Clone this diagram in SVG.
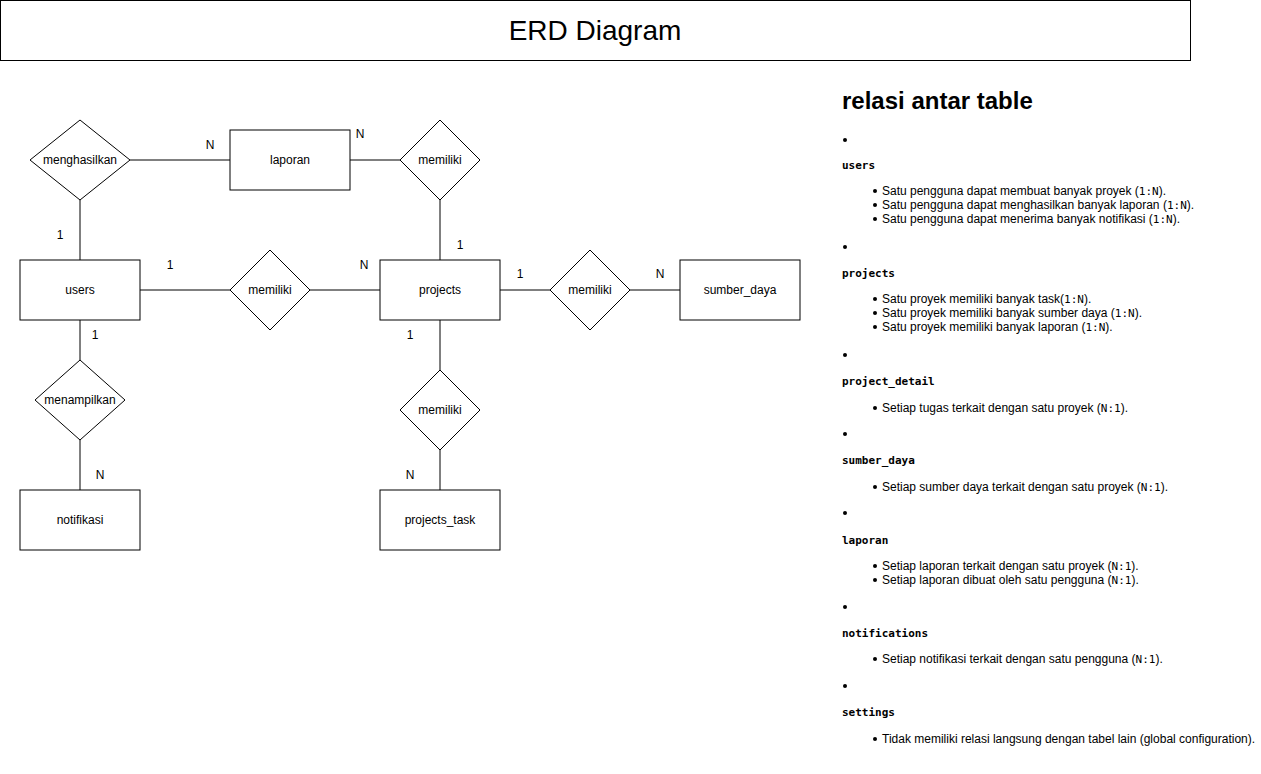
<svg xmlns="http://www.w3.org/2000/svg" width="1261" height="774" viewBox="0 0 1261 774">
<style>
.ent{fill:#fff;stroke:#000;stroke-width:1}
.lbl{font-family:"Liberation Sans",Arial,sans-serif;font-size:12px;fill:#000}
.c{text-anchor:middle;dominant-baseline:central}
.conn line{stroke:#000;stroke-width:1}
.h{font-family:"Liberation Sans",Arial,sans-serif;font-size:24px;font-weight:bold}
.code{font-family:"DejaVu Sans Mono","Liberation Mono",monospace;font-size:11px;font-weight:bold}
.li{font-family:"Liberation Sans",Arial,sans-serif;font-size:12px}
.m{font-family:"DejaVu Sans Mono","Liberation Mono",monospace;font-size:11px}
</style>
<rect width="1261" height="774" fill="#fff"/>
<g id="title">
<rect x="0.5" y="0.5" width="1190" height="60" class="ent"/>
<text x="595" y="30" class="c" style="font-family:'Liberation Sans',Arial,sans-serif;font-size:28px">ERD Diagram</text>
</g>
<g class="conn" id="connectors">
<line x1="130" y1="160" x2="230" y2="160"/>
<line x1="80" y1="200" x2="80" y2="260"/>
<line x1="350" y1="160" x2="400" y2="160"/>
<line x1="440" y1="200" x2="440" y2="260"/>
<line x1="140" y1="290" x2="230" y2="290"/>
<line x1="310" y1="290" x2="380" y2="290"/>
<line x1="500" y1="290" x2="550" y2="290"/>
<line x1="630" y1="290" x2="680" y2="290"/>
<line x1="80" y1="320" x2="80" y2="360"/>
<line x1="80" y1="440" x2="80" y2="490"/>
<line x1="440" y1="320" x2="440" y2="370"/>
<line x1="440" y1="450" x2="440" y2="490"/>
</g>
<g id="laporan"><rect x="230" y="130" width="120" height="60" class="ent"/><text x="290" y="160" class="lbl c">laporan</text></g>
<g id="users"><rect x="20" y="260" width="120" height="60" class="ent"/><text x="80" y="290" class="lbl c">users</text></g>
<g id="projects"><rect x="380" y="260" width="120" height="60" class="ent"/><text x="440" y="290" class="lbl c">projects</text></g>
<g id="sumber_daya"><rect x="680" y="260" width="120" height="60" class="ent"/><text x="740" y="290" class="lbl c">sumber_daya</text></g>
<g id="notifikasi"><rect x="20" y="490" width="120" height="60" class="ent"/><text x="80" y="520" class="lbl c">notifikasi</text></g>
<g id="projects_task"><rect x="380" y="490" width="120" height="60" class="ent"/><text x="440" y="520" class="lbl c">projects_task</text></g>
<g id="rel_menghasilkan"><polygon points="80,120 130,160 80,200 30,160" class="ent"/><text x="80" y="160" class="lbl c">menghasilkan</text></g>
<g id="rel_memiliki_laporan"><polygon points="440,120 480,160 440,200 400,160" class="ent"/><text x="440" y="160" class="lbl c">memiliki</text></g>
<g id="rel_memiliki_users"><polygon points="270,250 310,290 270,330 230,290" class="ent"/><text x="270" y="290" class="lbl c">memiliki</text></g>
<g id="rel_memiliki_sumber"><polygon points="590,250 630,290 590,330 550,290" class="ent"/><text x="590" y="290" class="lbl c">memiliki</text></g>
<g id="rel_menampilkan"><polygon points="80,360 125,400 80,440 35,400" class="ent"/><text x="80" y="400" class="lbl c">menampilkan</text></g>
<g id="rel_memiliki_task"><polygon points="440,370 480,410 440,450 400,410" class="ent"/><text x="440" y="410" class="lbl c">memiliki</text></g>
<g id="cardinalities" class="lbl">
<text x="210" y="145" class="c">N</text>
<text x="360" y="134" class="c">N</text>
<text x="60" y="235" class="c">1</text>
<text x="460" y="245" class="c">1</text>
<text x="170" y="265" class="c">1</text>
<text x="364" y="265" class="c">N</text>
<text x="520" y="274" class="c">1</text>
<text x="660" y="274" class="c">N</text>
<text x="95" y="335" class="c">1</text>
<text x="100" y="475" class="c">N</text>
<text x="410" y="335" class="c">1</text>
<text x="410" y="475" class="c">N</text>
</g>
<g id="notes">
<text x="842" y="109" class="h">relasi antar table</text>
<g fill="#000">
<circle cx="845" cy="140" r="2"/><circle cx="845" cy="247" r="2"/><circle cx="845" cy="355" r="2"/><circle cx="845" cy="434" r="2"/><circle cx="845" cy="513" r="2"/><circle cx="845" cy="607" r="2"/><circle cx="845" cy="686" r="2"/>
<circle cx="875" cy="191" r="2"/><circle cx="875" cy="205" r="2"/><circle cx="875" cy="219" r="2"/>
<circle cx="875" cy="299" r="2"/><circle cx="875" cy="313" r="2"/><circle cx="875" cy="327" r="2"/>
<circle cx="875" cy="408" r="2"/><circle cx="875" cy="487" r="2"/>
<circle cx="875" cy="566" r="2"/><circle cx="875" cy="580" r="2"/>
<circle cx="875" cy="659" r="2"/><circle cx="875" cy="739" r="2"/>
</g>
<text x="842" y="169" class="code">users</text>
<text x="882" y="195" class="li">Satu pengguna dapat membuat banyak proyek (<tspan class="m">1:N</tspan>).</text>
<text x="882" y="209" class="li">Satu pengguna dapat menghasilkan banyak laporan (<tspan class="m">1:N</tspan>).</text>
<text x="882" y="223" class="li">Satu pengguna dapat menerima banyak notifikasi (<tspan class="m">1:N</tspan>).</text>
<text x="842" y="277" class="code">projects</text>
<text x="882" y="303" class="li">Satu proyek memiliki banyak task(<tspan class="m">1:N</tspan>).</text>
<text x="882" y="317" class="li">Satu proyek memiliki banyak sumber daya (<tspan class="m">1:N</tspan>).</text>
<text x="882" y="331" class="li">Satu proyek memiliki banyak laporan (<tspan class="m">1:N</tspan>).</text>
<text x="842" y="385" class="code">project_detail</text>
<text x="882" y="412" class="li">Setiap tugas terkait dengan satu proyek (<tspan class="m">N:1</tspan>).</text>
<text x="842" y="464" class="code">sumber_daya</text>
<text x="882" y="491" class="li">Setiap sumber daya terkait dengan satu proyek (<tspan class="m">N:1</tspan>).</text>
<text x="842" y="544" class="code">laporan</text>
<text x="882" y="570" class="li">Setiap laporan terkait dengan satu proyek (<tspan class="m">N:1</tspan>).</text>
<text x="882" y="584" class="li">Setiap laporan dibuat oleh satu pengguna (<tspan class="m">N:1</tspan>).</text>
<text x="842" y="637" class="code">notifications</text>
<text x="882" y="663" class="li">Setiap notifikasi terkait dengan satu pengguna (<tspan class="m">N:1</tspan>).</text>
<text x="842" y="716" class="code">settings</text>
<text x="882" y="743" class="li">Tidak memiliki relasi langsung dengan tabel lain (global configuration).</text>
</g>
</svg>
